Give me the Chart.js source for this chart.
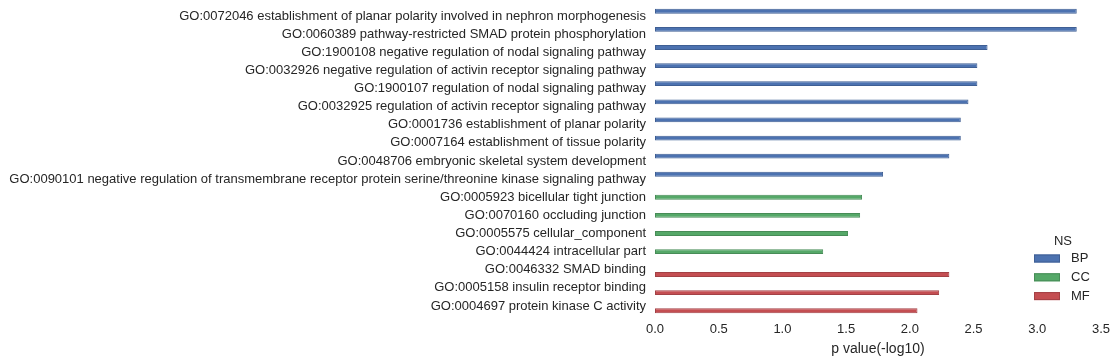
<!DOCTYPE html>
<html><head><meta charset="utf-8">
<script src="https://cdn.jsdelivr.net/npm/chart.js@4/dist/chart.umd.min.js"></script>
<style>html,body{margin:0;padding:0;background:#fff;}#wrap{width:1117px;height:362px;position:relative;}</style>
</head><body><div id="wrap"><canvas id="c" width="1117" height="362"></canvas></div>
<script>
const categories = [
  "GO:0072046 establishment of planar polarity involved in nephron morphogenesis",
  "GO:0060389 pathway-restricted SMAD protein phosphorylation",
  "GO:1900108 negative regulation of nodal signaling pathway",
  "GO:0032926 negative regulation of activin receptor signaling pathway",
  "GO:1900107 regulation of nodal signaling pathway",
  "GO:0032925 regulation of activin receptor signaling pathway",
  "GO:0001736 establishment of planar polarity",
  "GO:0007164 establishment of tissue polarity",
  "GO:0048706 embryonic skeletal system development",
  "GO:0090101 negative regulation of transmembrane receptor protein serine/threonine kinase signaling pathway",
  "GO:0005923 bicellular tight junction",
  "GO:0070160 occluding junction",
  "GO:0005575 cellular_component",
  "GO:0044424 intracellular part",
  "GO:0046332 SMAD binding",
  "GO:0005158 insulin receptor binding",
  "GO:0004697 protein kinase C activity"
];
const namespaces = ["BP","BP","BP","BP","BP","BP","BP","BP","BP","BP","CC","CC","CC","CC","MF","MF","MF"];
const pValues = [3.31, 3.31, 2.61, 2.53, 2.53, 2.46, 2.40, 2.40, 2.31, 1.79, 1.625, 1.61, 1.515, 1.32, 2.31, 2.23, 2.06];
const seriesNames = ["BP","CC","MF"];
const xTicks = [0, 0.5, 1, 1.5, 2, 2.5, 3, 3.5];

const fills = {BP:"#4C72B0", CC:"#55A868", MF:"#C44E52"};
const edges = {BP:"#3F5F94", CC:"#478C57", MF:"#A34145"};
const TXT = "#262626";
const FONT = "'Liberation Sans', Arial, sans-serif";

const datasets = seriesNames.map(s => ({
  label: s,
  data: pValues.map((v,i) => namespaces[i] === s ? v : null),
  backgroundColor: fills[s],
  borderColor: edges[s],
  borderWidth: 1,
  borderSkipped: false,
  categoryPercentage: 0.8,
  barPercentage: 1.0
}));

const legendPlugin = {
  id: 'nsLegend',
  afterDraw(chart) {
    const ctx = chart.ctx;
    ctx.save();
    ctx.font = "13px " + FONT;
    ctx.fillStyle = TXT;
    ctx.textAlign = "center";
    ctx.textBaseline = "middle";
    ctx.fillText("NS", 1063, 241);
    seriesNames.forEach((s, i) => {
      const y = 258.5 + i * 18.8;
      ctx.fillStyle = fills[s];
      ctx.fillRect(1034, y - 4, 26, 8);
      ctx.strokeStyle = edges[s];
      ctx.lineWidth = 1;
      ctx.strokeRect(1034.5, y - 3.5, 25, 7);
      ctx.fillStyle = TXT;
      ctx.textAlign = "left";
      ctx.fillText(s, 1071, y);
    });
    ctx.restore();
  }
};

new Chart(document.getElementById('c'), {
  type: 'bar',
  data: { labels: categories, datasets },
  options: {
    indexAxis: 'y',
    responsive: false,
    animation: false,
    layout: { padding: { top: 7, right: 16, left: 0, bottom: 0 } },
    plugins: { legend: { display: false }, tooltip: { enabled: false } },
    scales: {
      y: {
        grid: { display: false, drawTicks: false },
        border: { display: false },
        ticks: { color: TXT, font: { family: FONT, size: 13 }, padding: 9, autoSkip: false },
        afterFit(scale) { scale.width = 655; scale.paddingTop = 0; scale.paddingBottom = 0; }
      },
      x: {
        min: 0, max: 3.5,
        afterBuildTicks(scale) { scale.ticks = xTicks.map(v => ({ value: v })); },
        grid: { display: false, drawTicks: false },
        border: { display: false },
        ticks: { color: TXT, font: { family: FONT, size: 13 }, padding: 7, maxRotation: 0,
                 callback: v => Number(v).toFixed(1) },
        title: { display: true, text: "p value(-log10)", color: TXT, font: { family: FONT, size: 14 }, padding: { top: 0, bottom: 4 } },
        afterFit(scale) { scale.height = 47; }
      }
    }
  },
  plugins: [legendPlugin]
});
</script></body></html>
